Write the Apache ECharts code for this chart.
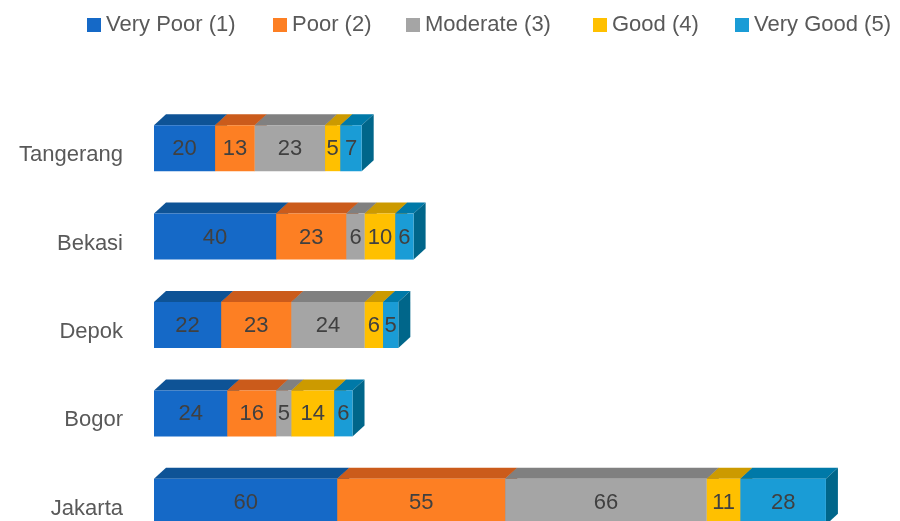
<!DOCTYPE html>
<html>
<head>
<meta charset="utf-8">
<script src="https://cdn.jsdelivr.net/npm/echarts@6/dist/echarts.min.js"></script>
<style>html,body{margin:0;padding:0;background:#fff}#c{width:900px;height:521px}</style>
</head>
<body>
<div id="c"></div>
<script>
const categories = ['Jakarta', 'Bogor', 'Depok', 'Bekasi', 'Tangerang'];
const seriesNames = ['Very Poor (1)', 'Poor (2)', 'Moderate (3)', 'Good (4)', 'Very Good (5)'];
const veryPoor = [60, 24, 22, 40, 20];
const poor = [55, 16, 23, 23, 13];
const moderate = [66, 5, 24, 6, 23];
const good = [11, 14, 6, 10, 5];
const veryGood = [28, 6, 5, 6, 7];

const values = [veryPoor, poor, moderate, good, veryGood];
const frontColors = ['#1569C7', '#FD7F23', '#A5A5A5', '#FFC000', '#1A9CD6'];
const topColors = ['#0E5396', '#CB5B1B', '#808080', '#CC9A00', '#0079A8'];
const sideColors = ['#0B4680', '#A84A14', '#6A6A6A', '#A87F00', '#00668A'];
const FONT = '"Liberation Sans", Arial, sans-serif';
const DX = 12, DY = 11, SHIFT = 7;

const cum = categories.map(() => 0);
const series = values.map((arr, si) => {
  const data = arr.map((v, ci) => {
    const s = cum[ci];
    cum[ci] += v;
    return [s, s + v, ci, v];
  });
  return {
    type: 'custom',
    name: seriesNames[si],
    itemStyle: { color: frontColors[si] },
    encode: { x: [0, 1], y: 2 },
    clip: false,
    data: data,
    renderItem: function (params, api) {
      const start = api.value(0), end = api.value(1), cat = api.value(2), val = api.value(3);
      const p0 = api.coord([start, cat]);
      const p1 = api.coord([end, cat]);
      const band = api.size([0, 1])[1];
      const h = band * 0.52;
      const cy = p0[1] - SHIFT;
      const yTop = cy - h / 2, yBot = cy + h / 2;
      const x0 = p0[0], x1 = p1[0];
      const i = params.seriesIndex;
      return {
        type: 'group',
        children: [
          { type: 'polygon', shape: { points: [[x0, yTop], [x1, yTop], [x1 + DX, yTop - DY], [x0 + DX, yTop - DY]] }, style: { fill: topColors[i] } },
          { type: 'polygon', shape: { points: [[x1, yTop], [x1 + DX, yTop - DY], [x1 + DX, yBot - DY], [x1, yBot]] }, style: { fill: sideColors[i] } },
          { type: 'rect', shape: { x: x0, y: yTop, width: x1 - x0, height: h }, style: { fill: frontColors[i] } },
          { type: 'text', style: { text: String(val), x: (x0 + x1) / 2, y: cy + 1, align: 'center', verticalAlign: 'middle', font: '22px ' + FONT, fill: '#404040' } }
        ]
      };
    }
  };
});

const legendLefts = [82, 268, 401, 588, 730];
const legends = seriesNames.map((n, i) => ({
  data: [n],
  left: legendLefts[i],
  top: 9,
  icon: 'rect',
  itemWidth: 14,
  itemHeight: 14,
  itemGap: 6,
  textStyle: { fontSize: 22, color: '#595959', fontFamily: FONT },
  selectedMode: false
}));

const chart = echarts.init(document.getElementById('c'), null, { renderer: 'canvas' });
chart.setOption({
  animation: false,
  backgroundColor: '#ffffff',
  legend: legends,
  grid: { left: 154, top: 111, width: 733, height: 442, containLabel: false, outerBoundsMode: 'none' },
  xAxis: { type: 'value', min: 0, max: 240, show: false },
  yAxis: {
    type: 'category',
    data: categories,
    axisLine: { show: false },
    axisTick: { show: false },
    splitLine: { show: false },
    axisLabel: { fontSize: 22, color: '#595959', fontFamily: FONT, margin: 31 }
  },
  series: series
});
</script>
</body>
</html>
